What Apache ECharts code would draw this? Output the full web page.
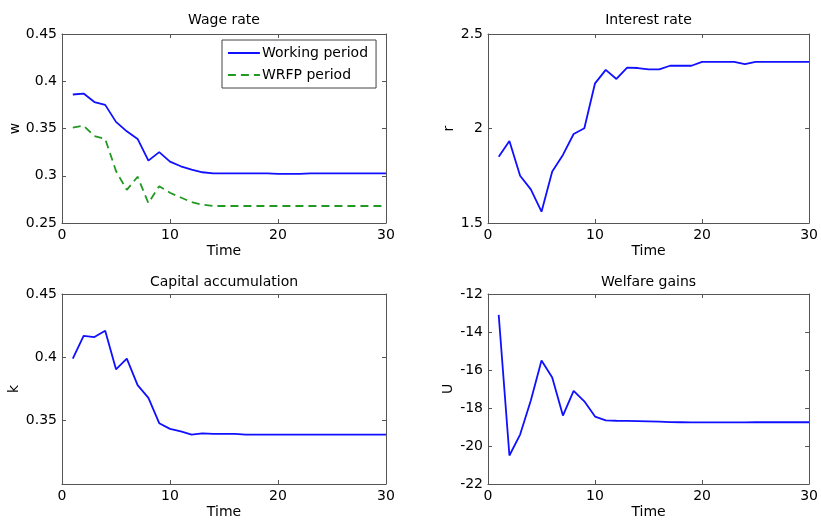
<!DOCTYPE html>
<html>
<head>
<meta charset="utf-8">
<script src="https://cdn.jsdelivr.net/npm/echarts@6/dist/echarts.min.js"></script>
<style>html,body{margin:0;padding:0;background:#fff;}#c{width:821px;height:522px;}</style>
</head>
<body>
<div id="c"></div>
<script>
var time = [1,2,3,4,5,6,7,8,9,10,11,12,13,14,15,16,17,18,19,20,21,22,23,24,25,26,27,28,29,30];
var wageWorking = [0.386,0.387,0.378,0.375,0.357,0.347,0.339,0.316,0.325,0.315,0.310,0.3065,0.3037,0.3025,0.3025,0.3025,0.3025,0.3025,0.3025,0.302,0.302,0.302,0.3025,0.3025,0.3025,0.3025,0.3025,0.3025,0.3025,0.3025];
var wageWRFP = [0.351,0.353,0.342,0.339,0.305,0.285,0.299,0.271,0.289,0.282,0.277,0.272,0.2694,0.268,0.268,0.268,0.268,0.268,0.268,0.268,0.268,0.268,0.268,0.268,0.268,0.268,0.268,0.268,0.268,0.268];
var interest = [1.851,1.934,1.750,1.678,1.560,1.772,1.860,1.971,2.001,2.239,2.310,2.262,2.322,2.320,2.313,2.313,2.332,2.332,2.332,2.353,2.353,2.353,2.353,2.341,2.353,2.353,2.353,2.353,2.353,2.353];
var capital = [0.399,0.417,0.416,0.421,0.3905,0.399,0.378,0.368,0.348,0.3435,0.3415,0.339,0.340,0.3395,0.3395,0.3395,0.339,0.339,0.339,0.339,0.339,0.339,0.339,0.339,0.339,0.339,0.339,0.339,0.339,0.339];
var welfare = [-13.1,-20.5,-19.4,-17.6,-15.5,-16.4,-18.4,-17.1,-17.65,-18.45,-18.65,-18.67,-18.68,-18.69,-18.7,-18.72,-18.74,-18.75,-18.76,-18.76,-18.76,-18.76,-18.76,-18.76,-18.75,-18.75,-18.75,-18.75,-18.75,-18.75];

var titles = ['Wage rate','Interest rate','Capital accumulation','Welfare gains'];
var yNames = ['w','r','k','U'];
var yRanges = [[0.25,0.45,0.05],[1.5,2.5,0.5],[0.3,0.45,0.05],[-22,-12,2]];
var xRange = [0,30,10];

var font = 'DejaVu Sans';
var txt = '#000';
var frame = '#555';

var grids = [
  {left:62, top:34, width:324, height:189},
  {left:488, top:34, width:323, height:189},
  {left:62, top:294, width:324, height:190},
  {left:488, top:294, width:323, height:190}
];
var yGaps = [40,32,41,33];
var tGaps = [7,7,5,5];

var xAxes = [], yAxes = [];
for (var i = 0; i < 4; i++) {
  xAxes.push({
    type:'value', gridIndex:i, min:xRange[0], max:xRange[1], interval:xRange[2], position:'bottom',
    name:'Time', nameLocation:'middle', nameGap:21,
    nameTextStyle:{fontFamily:font, fontSize:14, color:txt},
    axisLine:{show:true, onZero:false, lineStyle:{color:frame, width:1}},
    axisTick:{show:true, inside:true, length:4, lineStyle:{color:frame}},
    axisLabel:{fontFamily:font, fontSize:14, color:txt, margin:5},
    splitLine:{show:false}
  });
  xAxes.push({
    type:'value', gridIndex:i, min:xRange[0], max:xRange[1], interval:xRange[2], position:'top',
    name:titles[i], nameLocation:'middle', nameGap:tGaps[i],
    nameTextStyle:{fontFamily:font, fontSize:14, color:txt},
    axisLine:{show:true, onZero:false, lineStyle:{color:frame, width:1}},
    axisTick:{show:true, inside:true, length:4, lineStyle:{color:frame}},
    axisLabel:{show:false},
    splitLine:{show:false}
  });
  yAxes.push({
    type:'value', gridIndex:i, min:yRanges[i][0], max:yRanges[i][1], interval:yRanges[i][2], position:'left',
    name:yNames[i], nameLocation:'middle', nameGap:yGaps[i],
    nameTextStyle:{fontFamily:font, fontSize:14, color:txt},
    axisLine:{show:true, onZero:false, lineStyle:{color:frame, width:1}},
    axisTick:{show:true, inside:true, length:4, lineStyle:{color:frame}},
    axisLabel:{fontFamily:font, fontSize:14, color:txt, margin:5, showMinLabel: i !== 2},
    splitLine:{show:false}
  });
  yAxes.push({
    type:'value', gridIndex:i, min:yRanges[i][0], max:yRanges[i][1], interval:yRanges[i][2], position:'right',
    axisLine:{show:true, onZero:false, lineStyle:{color:frame, width:1}},
    axisTick:{show:true, inside:true, length:4, lineStyle:{color:frame}},
    axisLabel:{show:false},
    splitLine:{show:false}
  });
}

function pairs(vals) { return time.map(function(t, j){ return [t, vals[j]]; }); }
function line(name, vals, gi, color, type) {
  return {
    name:name, type:'line', xAxisIndex:gi*2, yAxisIndex:gi*2, data:pairs(vals),
    symbol:'none', silent:true, animation:false,
    lineStyle:{color:color, width:1.8, type:type || 'solid'},
    itemStyle:{color:color}
  };
}

var blue = '#1010ff';
var green = '#229922';

var option = {
  backgroundColor:'#fff',
  animation:false,
  grid:grids,
  xAxis:xAxes,
  yAxis:yAxes,
  legend:{
    left:222, top:40, orient:'vertical',
    data:['Working period','WRFP period'],
    itemWidth:32, itemHeight:12, itemGap:8,
    padding:[6,8,6,5],
    backgroundColor:'#fff', borderColor:'#444', borderWidth:1, borderRadius:0,
    itemStyle:{opacity:0},
    lineStyle:{width:1.8},
    textStyle:{fontFamily:font, fontSize:14, color:txt, padding:[0,0,0,-3]},
    selectedMode:false
  },
  series:[
    line('Working period', wageWorking, 0, blue),
    line('WRFP period', wageWRFP, 0, green, [8,5]),
    line('Interest rate', interest, 1, blue),
    line('Capital accumulation', capital, 2, blue),
    line('Welfare gains', welfare, 3, blue)
  ]
};
var chart = echarts.init(document.getElementById('c'), null, {renderer:'canvas'});
chart.setOption(option);
</script>
</body>
</html>
